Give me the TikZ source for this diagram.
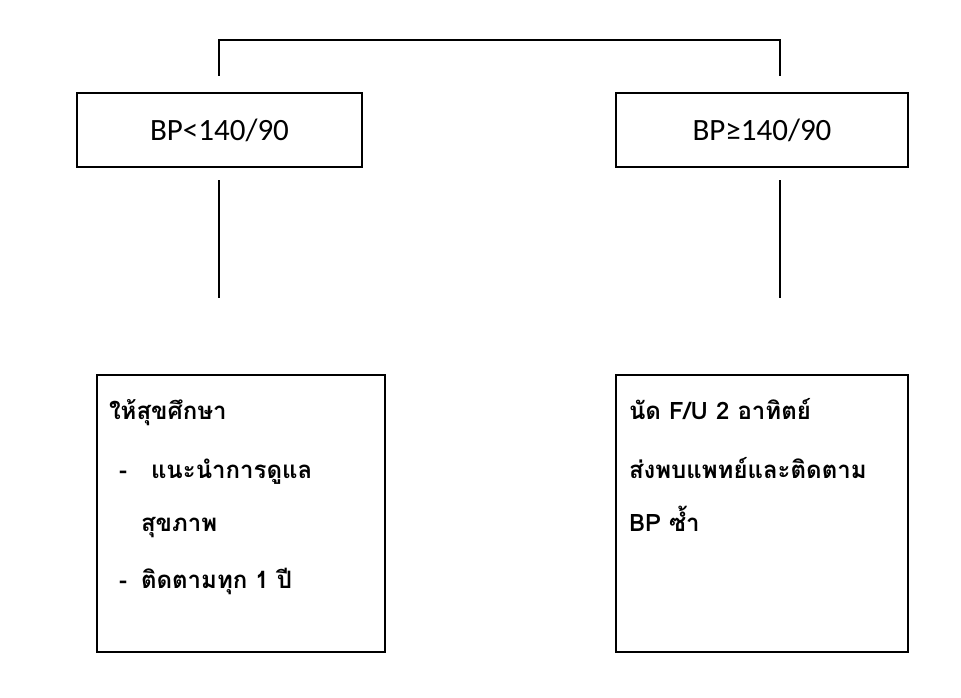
\documentclass[tikz,border=0pt]{standalone}
\usepackage{fontspec}
\setmainfont{Carlito}
\newfontfamily\thaifont[Script=Thai]{Loma}
\begin{document}
\begin{tikzpicture}[x=1pt,y=-1pt,
  line width=2pt,
  boxnode/.style={draw=black, line width=2pt, rectangle, inner sep=0pt},
  toplabel/.style={font=\fontsize{31}{36}\selectfont},
  thaitext/.style={font=\thaifont\bfseries\fontsize{24}{28}\selectfont, anchor=west, inner sep=0pt, text height=18pt, text depth=6pt}]
\useasboundingbox (0,0) rectangle (961,698);
% top boxes
\node[boxnode, minimum width=285pt, minimum height=73pt, toplabel] (tl) at (219.5,130) {BP<140/90};
\node[boxnode, minimum width=292pt, minimum height=73pt, toplabel] (tr) at (762,130) {BP≥140/90};
% bottom boxes
\node[boxnode, minimum width=288pt, minimum height=277pt] (bl) at (241,513.5) {};
\node[boxnode, minimum width=292pt, minimum height=277pt] (br) at (762,513.5) {};
% top bracket
\coordinate (ta) at (219,75);
\coordinate (tb) at (780,75);
\coordinate (tc) at (219,40);
\coordinate (td) at (780,40);
\draw[line cap=rect] (ta) -- (tc) -- (td) -- (tb);
% middle verticals
\coordinate (ma) at (219,180);
\coordinate (mb) at (219,298);
\coordinate (mc) at (780,180);
\coordinate (md) at (780,298);
\draw (ma) -- (mb);
\draw (mc) -- (md);
% bottom-left text
\node[thaitext] (l1) at (108,413) {ให้สุขศึกษา};
\node[thaitext] (d1) at (118,472) {-};
\node[thaitext] (l2) at (150,472) {แนะนำการดูแล};
\node[thaitext] (l3) at (140,525) {สุขภาพ};
\node[thaitext] (d2) at (118,582) {-};
\node[thaitext] (l4) at (140,582) {ติดตามทุก 1 ปี};
% bottom-right text
\node[thaitext] (r1) at (628,413) {นัด F/U 2 อาทิตย์};
\node[thaitext] (r2) at (628,472) {ส่งพบแพทย์และติดตาม};
\node[thaitext] (r3) at (628,525) {BP ซ้ำ};
\end{tikzpicture}
\end{document}
